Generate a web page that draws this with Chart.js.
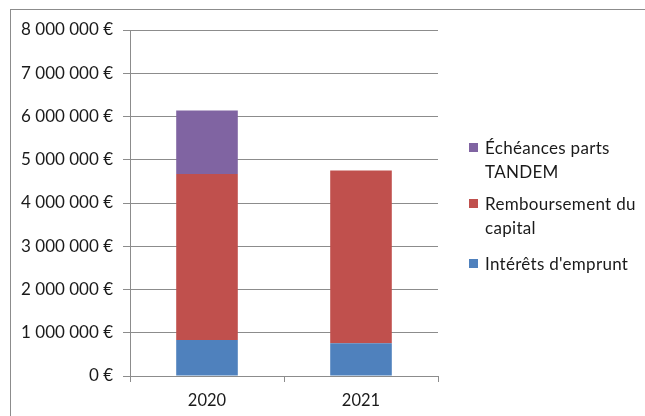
<!DOCTYPE html>
<html>
<head>
<meta charset="utf-8">
<script src="https://cdn.jsdelivr.net/npm/chart.js@4/dist/chart.umd.min.js"></script>
<style>
  html, body { margin: 0; padding: 0; background: #fff; }
  #wrap { position: relative; width: 645px; height: 416px; overflow: hidden; }
  #frame {
    position: absolute; left: 10px; top: 9px; width: 700px; height: 500px;
    border-left: 1px solid #8c8c8c; border-top: 1px solid #8c8c8c;
  }
  #legend {
    position: absolute; left: 469px; top: 0; width: 176px;
    font-family: Lato, "Open Sans", sans-serif; font-size: 17px; letter-spacing: 0.3px; color: #1a1a1a;
  }
  .item { position: absolute; left: 0; line-height: 24px; }
  .item .box { position: absolute; left: 0; width: 9px; height: 9px; }
  .item .txt { position: absolute; left: 16px; width: 170px; }
</style>
</head>
<body>
<div id="wrap">
  <div id="frame"></div>
  <canvas id="chart" width="645" height="416"></canvas>
  <div id="legend"></div>
</div>
<script>
// ======= Data =======
const years = ['2020', '2021'];
const interets = [830000, 755000];       // Intérêts d'emprunt
const capital = [3840000, 3995000];      // Remboursement du capital
const tandem = [1470000, 0];             // Échéances parts TANDEM
const yTicks = [0, 1000000, 2000000, 3000000, 4000000, 5000000, 6000000, 7000000, 8000000];

const FONT = 'Lato, "Open Sans", sans-serif';

// format like "8 000 000 €"
function euro(v) {
    return String(v).replace(/\B(?=(\d{3})+(?!\d))/g, ' ') + ' €';
}

const datasets = [
    { label: "Intérêts d'emprunt", data: interets, backgroundColor: '#4F81BD' },
    { label: 'Remboursement du capital', data: capital, backgroundColor: '#C0504D' },
    { label: 'Échéances parts TANDEM', data: tandem, backgroundColor: '#8064A2' }
];

new Chart(document.getElementById('chart'), {
    type: 'bar',
    data: { labels: years, datasets: datasets },
    options: {
        responsive: false,
        animation: false,
        layout: { padding: { left: 12, right: 207, top: 30, bottom: 0 } },
        datasets: { bar: { barPercentage: 0.4, categoryPercentage: 1 } },
        plugins: { legend: { display: false }, tooltip: { enabled: false } },
        scales: {
            x: {
                stacked: true,
                grid: { drawOnChartArea: false, drawTicks: true, tickLength: 6, color: '#8c8c8c' },
                border: { color: '#8c8c8c' },
                ticks: { padding: 9, color: '#1a1a1a', font: { family: FONT, size: 16.5 } },
                afterFit: scale => { scale.height = 40; }
            },
            y: {
                stacked: true,
                min: 0,
                max: 8000000,
                afterBuildTicks: scale => { scale.ticks = yTicks.map(v => ({ value: v })); },
                grid: { color: '#8c8c8c', tickLength: 7 },
                border: { color: '#8c8c8c' },
                ticks: {
                    padding: 10, color: '#1a1a1a', font: { family: FONT, size: 17 },
                    callback: v => euro(v)
                },
                afterFit: scale => { scale.width = 118; }
            }
        }
    }
});

// ======= Legend (wrapped text, top item first) =======
const legendTops = [136, 192, 252];
const legend = document.getElementById('legend');
[...datasets].reverse().forEach((ds, i) => {
    const item = document.createElement('div');
    item.className = 'item';
    item.style.top = legendTops[i] + 'px';
    const box = document.createElement('div');
    box.className = 'box';
    box.style.background = ds.backgroundColor;
    box.style.top = '7px';
    const txt = document.createElement('div');
    txt.className = 'txt';
    txt.textContent = ds.label;
    item.appendChild(box);
    item.appendChild(txt);
    legend.appendChild(item);
});
</script>
</body>
</html>
